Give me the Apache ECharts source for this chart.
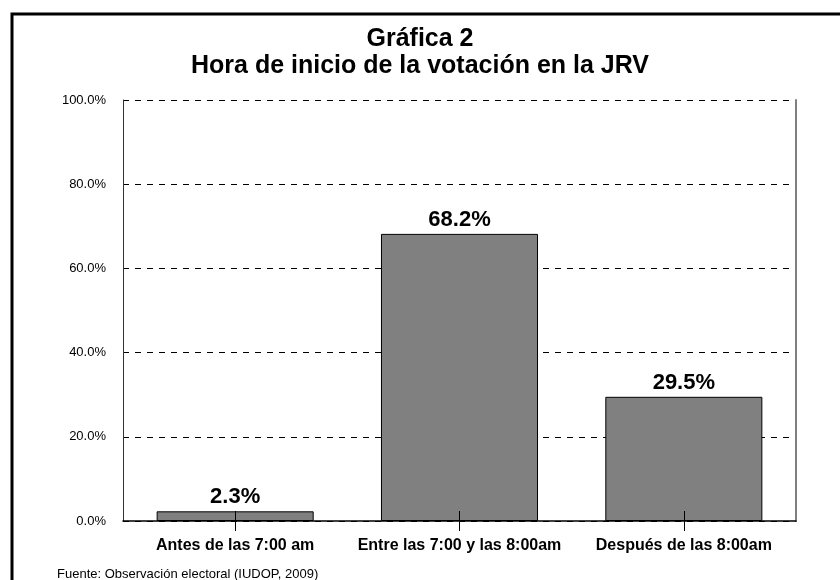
<!DOCTYPE html>
<html>
<head>
<meta charset="utf-8">
<script src="https://cdn.jsdelivr.net/npm/echarts@6/dist/echarts.min.js"></script>
<style>html,body{margin:0;padding:0;background:#fff}#c{width:840px;height:580px}</style>
</head>
<body>
<div id="c"></div>
<script>
var titleLines = ['Gráfica 2', 'Hora de inicio de la votación en la JRV'];
var categories = ['Antes de las 7:00 am', 'Entre las 7:00 y las 8:00am', 'Después de las 8:00am'];
var values = [2.3, 68.2, 29.5];
var yTicks = [0, 20, 40, 60, 80, 100];
var source = 'Fuente: Observación electoral (IUDOP, 2009)';

var chart = echarts.init(document.getElementById('c'), null, {renderer: 'canvas'});
var FONT = 'Liberation Sans, Arial, sans-serif';
chart.setOption({
  animation: false,
  backgroundColor: '#fff',
  title: {
    text: titleLines.join('\n'),
    left: 'center',
    top: 21,
    textStyle: {fontFamily: FONT, fontSize: 25, fontWeight: 'bold', color: '#000', lineHeight: 27, align: 'center'}
  },
  graphic: [
    {type: 'rect', shape: {x: 12, y: 14, width: 900, height: 700}, style: {fill: 'none', stroke: '#000', lineWidth: 3}, silent: true, z: 100},
    {type: 'text', left: 57, top: 568, style: {text: source, font: '13px ' + FONT, fill: '#000'}}
  ],
  grid: {left: 123, right: 44, top: 100, bottom: 59},
  xAxis: [{
    type: 'category',
    data: categories,
    z: 10,
    axisLine: {show: true, lineStyle: {color: '#000', width: 1.5}},
    axisTick: {show: true, alignWithLabel: true, length: 10, lineStyle: {color: '#000', width: 1}},
    axisLabel: {fontFamily: FONT, fontSize: 16, fontWeight: 'bold', color: '#000', margin: 17, interval: 0}
  }, {
    type: 'category',
    data: categories,
    position: 'bottom',
    z: 10,
    axisLine: {show: false, onZero: false},
    axisTick: {show: true, alignWithLabel: true, inside: true, length: 10, lineStyle: {color: '#000', width: 1}},
    axisLabel: {show: false}
  }],
  yAxis: [{
    type: 'value',
    min: yTicks[0], max: yTicks[yTicks.length - 1], interval: 20,
    axisLine: {show: true, lineStyle: {color: '#333', width: 1}},
    axisTick: {show: false},
    axisLabel: {fontFamily: FONT, fontSize: 13, color: '#000', margin: 17, formatter: function (v) { return v.toFixed(1) + '%'; }},
    splitLine: {show: true, lineStyle: {color: '#000', type: [6, 6], width: 1}}
  }, {
    type: 'value',
    position: 'right',
    min: yTicks[0], max: yTicks[yTicks.length - 1], interval: 20,
    axisLine: {show: true, lineStyle: {color: '#808080', width: 2}},
    axisTick: {show: false},
    axisLabel: {show: false},
    splitLine: {show: false}
  }],
  series: [{
    type: 'bar',
    data: values,
    barWidth: '70%',
    itemStyle: {color: '#808080', borderColor: '#000', borderWidth: 1},
    label: {
      show: true, position: 'top', distance: 3,
      fontFamily: FONT, fontSize: 22, fontWeight: 'bold', color: '#000',
      formatter: function (p) { return p.value.toFixed(1) + '%'; }
    }
  }]
});
</script>
</body>
</html>
